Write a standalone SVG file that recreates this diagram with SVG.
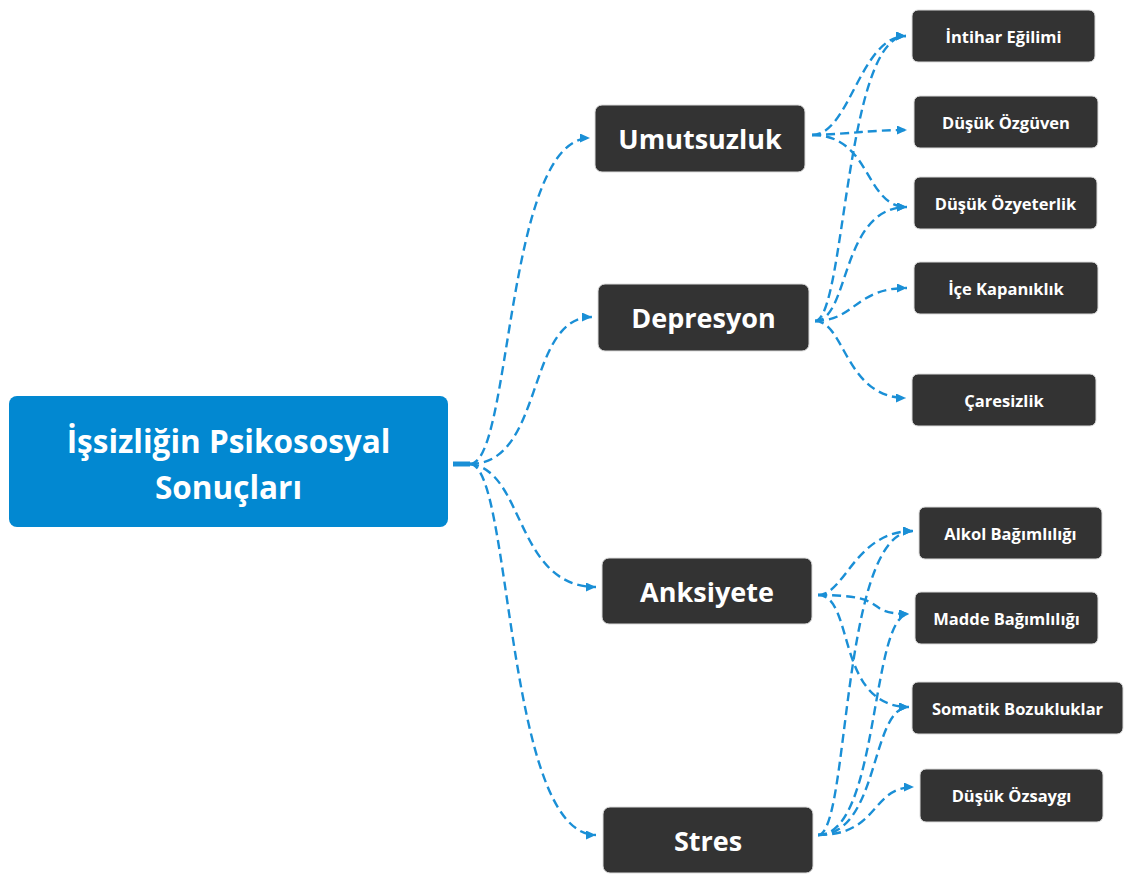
<svg xmlns="http://www.w3.org/2000/svg" width="1124" height="874" viewBox="0 0 1124 874">
<style>
.n rect{fill:#333333;stroke:#dcdcdc;stroke-width:1}
.n text{fill:#ffffff;font-family:"Open Sans","Liberation Sans",sans-serif;font-weight:700;text-anchor:middle;dominant-baseline:central}
.m text{font-size:27px}
.s text{font-size:16.5px}
.e path{fill:none;stroke:#1a8fd6;stroke-width:2.4;stroke-dasharray:9 5;marker-end:url(#ah)}
</style>
<defs>
<marker id="ah" markerUnits="userSpaceOnUse" markerWidth="12" markerHeight="10" refX="10" refY="4.5" orient="auto">
<path d="M0,0 L10,4.5 L0,9 z" fill="#1a8fd6"/>
</marker>
</defs>
<rect width="1124" height="874" fill="#ffffff"/>
<g id="connectors" class="e">
<path d="M453 464 L470 464" style="stroke-width:5;stroke-dasharray:none;marker-end:none"/>
<path d="M470 464 C512 464, 505 138, 590 138"/>
<path d="M470 464 C545 464, 525 317, 592 317"/>
<path d="M470 464 C525 470, 515 587, 596 587"/>
<path d="M470 464 C512 464, 505 835, 596 835"/>
<path d="M812 135 C850 135, 860 36, 906 36"/>
<path d="M812 135 C850 134, 870 130, 907 130"/>
<path d="M812 135 C872 135, 864 207, 907 207"/>
<path d="M815 321 C845 321, 845 36, 906 36"/>
<path d="M815 321 C850 321, 840 207, 907 207"/>
<path d="M815 321 C855 321, 855 288, 907 288"/>
<path d="M815 321 C845 321, 845 398, 906 398"/>
<path d="M818 595 C845 595, 855 531, 913 531"/>
<path d="M818 595 C895 595, 860 614, 909 614"/>
<path d="M818 595 C855 595, 835 707, 909 707"/>
<path d="M818 835 C850 835, 840 531, 913 531"/>
<path d="M818 835 C880 835, 870 614, 909 614"/>
<path d="M818 835 C880 835, 870 707, 909 707"/>
<path d="M818 835 C880 835, 870 787, 914 787"/>
</g>
<g id="root">
<rect x="9" y="396" width="439" height="131" rx="8" fill="#0288d1"/>
<text x="228.5" y="440" fill="#ffffff" font-family="Open Sans, Liberation Sans, sans-serif" font-weight="700" font-size="31.5" text-anchor="middle" dominant-baseline="central">İşsizliğin Psikososyal</text>
<text x="228.5" y="486" fill="#ffffff" font-family="Open Sans, Liberation Sans, sans-serif" font-weight="700" font-size="31.5" text-anchor="middle" dominant-baseline="central">Sonuçları</text>
</g>
<g id="umutsuzluk" class="n m"><rect x="595" y="105" width="210" height="67" rx="7"/><text x="700" y="138.5">Umutsuzluk</text></g>
<g id="depresyon" class="n m"><rect x="598" y="284" width="211" height="67" rx="7"/><text x="703.5" y="317.5">Depresyon</text></g>
<g id="anksiyete" class="n m"><rect x="602" y="558" width="210" height="66" rx="7"/><text x="707" y="591">Anksiyete</text></g>
<g id="stres" class="n m"><rect x="603" y="807" width="210" height="66" rx="7"/><text x="708" y="840">Stres</text></g>
<g id="intihar" class="n s"><rect x="912" y="10" width="183" height="52" rx="6"/><text x="1003.5" y="36">İntihar Eğilimi</text></g>
<g id="ozguven" class="n s"><rect x="914" y="96" width="184" height="52" rx="6"/><text x="1006" y="122">Düşük Özgüven</text></g>
<g id="ozyeterlik" class="n s"><rect x="914" y="177" width="183" height="52" rx="6"/><text x="1005.5" y="203">Düşük Özyeterlik</text></g>
<g id="icekapaniklik" class="n s"><rect x="914" y="262" width="184" height="52" rx="6"/><text x="1006" y="288">İçe Kapanıklık</text></g>
<g id="caresizlik" class="n s"><rect x="912" y="374" width="184" height="52" rx="6"/><text x="1004" y="400">Çaresizlik</text></g>
<g id="alkol" class="n s"><rect x="919" y="507" width="183" height="52" rx="6"/><text x="1010.5" y="533">Alkol Bağımlılığı</text></g>
<g id="madde" class="n s"><rect x="915" y="592" width="183" height="52" rx="6"/><text x="1006.5" y="618">Madde Bağımlılığı</text></g>
<g id="somatik" class="n s"><rect x="912" y="682" width="211" height="52" rx="6"/><text x="1017.5" y="708">Somatik Bozukluklar</text></g>
<g id="ozsaygi" class="n s"><rect x="920" y="769" width="183" height="53" rx="6"/><text x="1011.5" y="795.5">Düşük Özsaygı</text></g>
</svg>
